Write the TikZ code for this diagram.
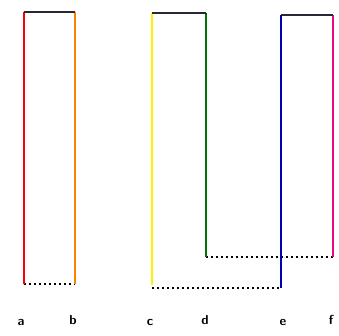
\documentclass[tikz,border=0pt]{standalone}
\begin{document}
\begin{tikzpicture}[x=1pt,y=-1pt,
  wire/.style={line width=2.2pt,line join=round},
  link/.style={line width=2.4pt,dash pattern=on 1.6pt off 3.4pt},
  lbl/.style={font=\sffamily\bfseries\fontsize{13}{15}\selectfont,inner sep=0pt}]
\useasboundingbox (0,0) rectangle (339,335);
\definecolor{topc}{RGB}{40,40,50}
% corner points
\coordinate (a0) at (24,284); \coordinate (a1) at (24,12);
\coordinate (b1) at (75,12);  \coordinate (b0) at (75,284);
\coordinate (c0) at (152,285); \coordinate (c1) at (152,13);
\coordinate (d1) at (206,13); \coordinate (d0) at (206,257);
\coordinate (e0) at (281,288); \coordinate (e1) at (281,15);
\coordinate (f1) at (333,15); \coordinate (f0) at (333,257);
% dotted links
\draw[link] (a0) -- (b0);
\draw[link] (d0) -- (f0);
\draw[link] (c0 |- e0) -- (e0);
% conductors
\draw[wire,red!85!purple] (a0) -- (a1);
\draw[wire,orange] (b1) -- (b0);
\draw[wire,topc] (a1) -- (b1);
\draw[wire,yellow] (c0) -- (c1);
\draw[wire,green!45!black] (d1) -- (d0);
\draw[wire,topc] (c1) -- (d1);
\draw[wire,blue!70!black] (e0) -- (e1);
\draw[wire,magenta!80!purple] (f1) -- (f0);
\draw[wire,topc] (e1) -- (f1);
% terminal labels
\node[lbl] (la) at (21,322) {a};
\node[lbl] (lb) at (73,320) {b};
\node[lbl] (lc) at (150,322) {c};
\node[lbl] (ld) at (205,320) {d};
\node[lbl] (le) at (283,322) {e};
\node[lbl] (lf) at (331,320) {f};
\end{tikzpicture}
\end{document}
